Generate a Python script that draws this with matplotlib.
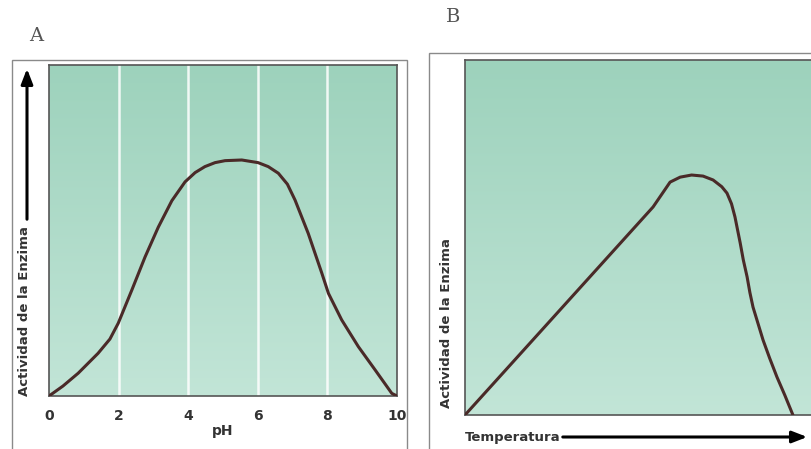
import numpy as np
import matplotlib.pyplot as plt
from matplotlib.patches import Rectangle
from matplotlib.colors import LinearSegmentedColormap

# panel A: enzyme activity vs pH (activity as fraction of plot height)
ph = [0, 0.4, 0.84, 1.41, 1.75, 1.99, 2.38, 2.76, 3.14, 3.53, 3.91, 4.2, 4.48, 4.77, 5.06,
      5.54, 6.01, 6.3, 6.59, 6.85, 7.07, 7.45, 7.84, 8.03, 8.41, 8.89, 9.37, 9.85, 10]
act_ph = [0, 0.03, 0.069, 0.129, 0.172, 0.22, 0.32, 0.42, 0.51, 0.59, 0.647, 0.675, 0.693,
          0.705, 0.711, 0.713, 0.705, 0.693, 0.673, 0.64, 0.592, 0.491, 0.371, 0.31,
          0.23, 0.149, 0.079, 0.008, 0]
ph_ticks = [0, 2, 4, 6, 8, 10]

# panel B: enzyme activity vs temperature (arbitrary units)
temp = [0, 54.2, 59.1, 62.0, 65.3, 68.6, 71.5, 74.0, 75.5, 76.8, 77.8, 79.3, 80.2, 81.3,
        82.1, 83.0, 85.9, 87.8, 89.9, 92.2, 94.5]
act_temp = [0, 0.586, 0.656, 0.670, 0.676, 0.673, 0.662, 0.643, 0.625, 0.595, 0.558, 0.485,
            0.437, 0.389, 0.345, 0.304, 0.211, 0.16, 0.107, 0.055, 0]

W, H = 812, 449
CURVE = "#4a2a28"
SPINE = "#555555"
FRAME = "#8a8a8a"
TEXT = "#333333"


def px(x0, y0, x1, y1):
    # image pixel box (top-left origin) -> figure fraction rect
    return [x0 / W, 1 - y1 / H, (x1 - x0) / W, (y1 - y0) / H]


def green_bg(ax):
    grad = np.linspace(0, 1, 256).reshape(-1, 1)
    cmap = LinearSegmentedColormap.from_list("g", ["#c2e5d7", "#9dd2bc"])
    ax.imshow(grad, cmap=cmap, origin="lower", aspect="auto",
              extent=[0, 1, 0, 1], transform=ax.transAxes, zorder=0)


fig = plt.figure(figsize=(W / 100, H / 100), dpi=100)
fig.patch.set_facecolor("white")

# outer frames
fig.add_artist(Rectangle((12 / W, -0.05), (407 - 12) / W, 1 - 60 / H + 0.05,
                         transform=fig.transFigure, fill=False, edgecolor=FRAME, lw=1))
fig.add_artist(Rectangle((429 / W, -0.05), 0.6, 1 - 53 / H + 0.05,
                         transform=fig.transFigure, fill=False, edgecolor=FRAME, lw=1))

# ---- panel A ----
axA = fig.add_axes(px(49, 65, 397, 396))
green_bg(axA)
for v in [2, 4, 6, 8]:
    axA.axvline(v, color="white", lw=1.8, alpha=0.85, zorder=1)
axA.plot(ph, act_ph, color=CURVE, lw=2.2, zorder=3,
         solid_capstyle="round", solid_joinstyle="round")
axA.set_xlim(0, 10)
axA.set_ylim(0, 1)
axA.set_xticks(ph_ticks)
axA.set_xticklabels([str(t) for t in ph_ticks], fontweight="bold", color=TEXT, fontsize=10)
axA.set_yticks([])
axA.tick_params(axis="x", length=0, pad=9)
axA.set_xlabel("pH", fontweight="bold", color=TEXT, fontsize=10, labelpad=1)
for s in axA.spines.values():
    s.set_color(SPINE)
    s.set_linewidth(1.2)

fig.text(25 / W, 1 - 311 / H, "Actividad de la Enzima", rotation=90, ha="center",
         va="center", fontsize=9.5, fontweight="bold", color=TEXT)
fig.text(36 / W, 1 - 36 / H, "A", family="DejaVu Serif", fontsize=14, color="#555555",
         ha="center", va="center")
axA.annotate("", xy=(27, H - 66), xytext=(27, H - 222),
             xycoords="figure pixels", textcoords="figure pixels",
             arrowprops=dict(arrowstyle="-|>,head_width=0.35,head_length=0.9",
                             color="black", lw=2.2))

# ---- panel B ----
axB = fig.add_axes(px(465, 60, 820, 415))
green_bg(axB)
axB.plot(temp, act_temp, color=CURVE, lw=2.2, zorder=3,
         solid_capstyle="round", solid_joinstyle="round")
axB.set_xlim(0, 355 / 3.47)
axB.set_ylim(0, 1)
axB.set_xticks([])
axB.set_yticks([])
for s in axB.spines.values():
    s.set_color(SPINE)
    s.set_linewidth(1.2)

fig.text(447 / W, 1 - 323 / H, "Actividad de la Enzima", rotation=90, ha="center",
         va="center", fontsize=9.5, fontweight="bold", color=TEXT)
fig.text(465 / W, 1 - 437 / H, "Temperatura", ha="left", va="center",
         fontsize=9.5, fontweight="bold", color=TEXT)
fig.text(453 / W, 1 - 17 / H, "B", family="DejaVu Serif", fontsize=14, color="#555555",
         ha="center", va="center")
axB.annotate("", xy=(810, H - 437), xytext=(560, H - 437),
             xycoords="figure pixels", textcoords="figure pixels",
             arrowprops=dict(arrowstyle="-|>,head_width=0.35,head_length=0.9",
                             color="black", lw=2.2))

fig.savefig("out.png", dpi=100)
